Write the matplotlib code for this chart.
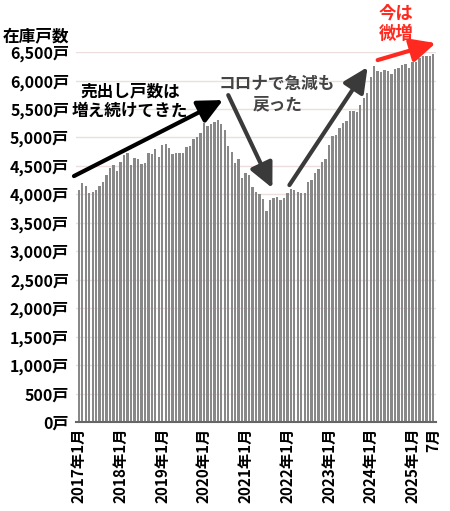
import matplotlib
matplotlib.use("Agg")
import matplotlib.pyplot as plt
import numpy as np

plt.rcParams['font.family'] = ['Noto Sans CJK JP', 'DejaVu Sans']

# monthly stock count, 2017-01 .. 2025-07
stock = [
    4076, 4205, 4147, 4030, 4047, 4076, 4147, 4222, 4340, 4469, 4515, 4410,   # 2017
    4574, 4691, 4720, 4515, 4645, 4620, 4527, 4556, 4720, 4704, 4790, 4662,   # 2018
    4867, 4879, 4808, 4704, 4732, 4720, 4720, 4837, 4855, 4972, 5002, 5072,   # 2019
    5248, 5200, 5230, 5265, 5306, 5230, 5130, 4849, 4738, 4556, 4615, 4282,   # 2020
    4381, 4340, 4135, 4047, 4000, 3912, 3715, 3900, 3941, 3959, 3900, 3930,   # 2021
    4030, 4090, 4080, 4050, 4030, 4020, 4220, 4250, 4370, 4450, 4575, 4620,   # 2022
    4860, 5020, 5050, 5160, 5260, 5290, 5460, 5465, 5455, 5575, 5690, 5790,   # 2023
    6055, 6255, 6175, 6155, 6185, 6165, 6110, 6195, 6215, 6270, 6285, 6215,   # 2024
    6330, 6320, 6405, 6430, 6435, 6440, 6460,                                 # 2025
]
years = list(range(2017, 2026))
tick_pos = [12 * i for i in range(len(years))] + [len(stock) - 1]
tick_labels = [f"{y}年1月" for y in years] + ["7月"]
y_ticks = list(range(0, 6501, 500))
y_labels = [f"{v:,}戸" for v in y_ticks]

fig = plt.figure(figsize=(4.5, 5.11), dpi=100)
ax = fig.add_axes([0.169, 0.174, 0.800, 0.724])

x = np.arange(len(stock))
ax.bar(x, stock, width=0.68, color='#888888', zorder=2)

ax.set_ylim(0, 6500)
ax.set_xlim(-0.8, len(stock) - 0.2)
ax.set_yticks(y_ticks)
ax.set_yticklabels(y_labels, fontsize=11.5, fontweight='bold')
ax.set_xticks(tick_pos)
ax.set_xticklabels(tick_labels, rotation=90, fontsize=11, fontweight='bold')
ax.tick_params(length=0, pad=5)
ax.tick_params(axis='x', pad=4)
ax.grid(axis='y', color='#ecdede', linewidth=1, zorder=0)
for s in ['top', 'right', 'left']:
    ax.spines[s].set_visible(False)
ax.spines['bottom'].set_color('#666666')
ax.spines['bottom'].set_linewidth(1.5)
ax.spines['bottom'].set_zorder(3)

fig.text(0.007, 0.929, "在庫戸数", fontsize=12, fontweight='bold', va='center', ha='left')

arrow = '-|>,head_length=0.75,head_width=0.36'

def add_arrow(x0, y0, x1, y1, color, lw=3):
    ax.annotate('', xy=(x1, y1), xytext=(x0, y0), annotation_clip=False,
                arrowprops=dict(arrowstyle=arrow, color=color, lw=lw,
                                mutation_scale=20, shrinkA=0, shrinkB=0), zorder=5)

add_arrow(-1.4, 4322, 41.5, 5658, 'black')
add_arrow(43, 5745, 55.7, 4111, '#3a3a3a')
add_arrow(60.6, 4164, 83.1, 6237, '#3a3a3a')
add_arrow(86, 6360, 102.7, 6659, '#ff2a1f')

ax.text(14.7, 5640, "売出し戸数は\n増え続けてきた", fontsize=12, fontweight='bold',
        ha='center', va='center', linespacing=1.15, color='black', zorder=6)
ax.text(57.1, 5763, "コロナで急減も\n戻った", fontsize=12, fontweight='bold',
        ha='center', va='center', linespacing=1.15, color='#444444', zorder=6)
ax.text(91.2, 7000, "今は\n微増", fontsize=12.5, fontweight='bold',
        ha='center', va='center', linespacing=1.15, color='#ff2a1f', zorder=6,
        clip_on=False)

fig.savefig('out.png', dpi=100)
